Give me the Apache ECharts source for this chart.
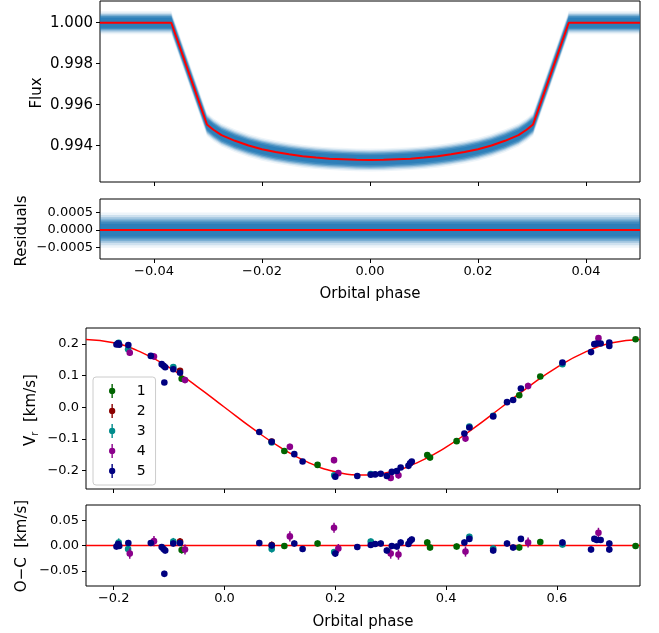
<!DOCTYPE html>
<html>
<head>
<meta charset="UTF-8">
<title>Transit and RV fit</title>
<style>html,body{margin:0;padding:0;background:#fff;}</style>
</head>
<body>
<div id="main" style="width:659px;height:633px;"></div>
<script src="https://cdn.jsdelivr.net/npm/echarts@6/dist/echarts.min.js"></script>
<script>
// light curve model
var lcPhase = [-0.05, -0.0368, -0.0352, -0.0335, -0.0318, -0.0302, -0.029, -0.0275, -0.025, -0.0225, -0.02, -0.0175, -0.015, -0.0125, -0.01, -0.0075, -0.005, -0.0025, 0,
               0.0025, 0.005, 0.0075, 0.01, 0.0125, 0.015, 0.0175, 0.02, 0.0225, 0.025, 0.0275, 0.029, 0.0302, 0.0318, 0.0335, 0.0352, 0.0368, 0.05];
var lcFlux = [1.0, 1.0, 0.99880, 0.99752, 0.99624, 0.99504, 0.99478, 0.99452, 0.99424, 0.99401, 0.99383, 0.99369, 0.99358, 0.99349, 0.99342, 0.99337, 0.99334, 0.99331, 0.99330,
              0.99331, 0.99334, 0.99337, 0.99342, 0.99349, 0.99358, 0.99369, 0.99383, 0.99401, 0.99424, 0.99452, 0.99478, 0.99504, 0.99624, 0.99752, 0.99880, 1.0, 1.0];
var resPhase = [-0.05, 0.05];
var resFlux = [0, 0];
// half widths of the photometric scatter cloud (outer halo -> dense core)
var lcSpread = [0.00056, 0.00049, 0.00043, 0.00037, 0.00031, 0.00024];
var resSpread = [0.0005, 0.00043, 0.00036, 0.0003, 0.00024, 0.00018];
var spreadAlpha = [0.08, 0.15, 0.25, 0.4, 0.55, 0.6];

// RV model
var rvPhase = [-0.25, -0.2, -0.15, -0.1, -0.05, 0, 0.05, 0.1, 0.15, 0.2, 0.25, 0.3, 0.35, 0.4, 0.45, 0.5, 0.55, 0.6, 0.65, 0.7, 0.75];
var rvModel = [0.214, 0.2035, 0.1731, 0.1258, 0.0661, 0, -0.0661, -0.1258, -0.1731, -0.2035, -0.214, -0.2035, -0.1731, -0.1258, -0.0661, 0, 0.0661, 0.1258, 0.1731, 0.2035, 0.214];

// instrument 1
var ph1 = [-0.0773, 0.108, 0.168, 0.366, 0.371, 0.419, 0.532, 0.570, 0.742];
var vr1 = [0.090, -0.138, -0.182, -0.151, -0.159, -0.107, 0.038, 0.097, 0.2145];
var oc1 = [-0.009, -0.001, 0.004, 0.006, -0.004, -0.002, -0.004, 0.007, -0.001];
var er1 = [0.007, 0.006, 0.006, 0.006, 0.006, 0.006, 0.006, 0.006, 0.006];
// instrument 2
var ph2 = [-0.0803, 0.0852];
var vr2 = [0.115, -0.108];
var oc2 = [0.008, 0.001];
var er2 = [0.007, 0.007];
// instrument 3
var ph3 = [-0.191, -0.174, -0.0924, 0.0852, 0.198, 0.264, 0.442, 0.485, 0.610];
var vr3 = [0.203, 0.183, 0.127, -0.111, -0.215, -0.211, -0.061, -0.027, 0.136];
var oc3 = [0.006, -0.007, 0.008, -0.007, -0.013, 0.008, 0.017, -0.006, 0.002];
var er3 = [0.008, 0.007, 0.007, 0.007, 0.006, 0.006, 0.006, 0.006, 0.006];
// instrument 4
var ph4 = [-0.171, -0.1273, -0.0713, 0.118, 0.1977, 0.2055, 0.300, 0.314, 0.435, 0.548, 0.675];
var vr4 = [0.172, 0.160, 0.086, -0.125, -0.167, -0.208, -0.223, -0.215, -0.099, 0.067, 0.218];
var oc4 = [-0.016, 0.0086, -0.008, 0.018, 0.035, -0.006, -0.016, -0.018, -0.012, 0.006, 0.025];
var er4 = [0.010, 0.010, 0.010, 0.010, 0.010, 0.009, 0.010, 0.010, 0.010, 0.010, 0.010];
// instrument 5
var ph5 = [-0.195, -0.192, -0.190, -0.1736, -0.133, -0.1134, -0.110, -0.107, -0.1086, -0.0924, -0.0803, 0.0628, 0.0852, 0.126, 0.141,
           0.200, 0.2397, 0.264, 0.272, 0.282, 0.293, 0.302, 0.311, 0.318, 0.332, 0.335, 0.338, 0.433, 0.442, 0.485,
           0.510, 0.521, 0.535, 0.610, 0.6616, 0.6676, 0.672, 0.679, 0.6946, 0.6946];
var vr5 = [0.198, 0.202, 0.197, 0.196, 0.162, 0.136, 0.131, 0.126, 0.078, 0.120, 0.109, -0.078, -0.109, -0.148, -0.171,
           -0.219, -0.217, -0.213, -0.212, -0.210, -0.217, -0.204, -0.201, -0.190, -0.185, -0.177, -0.171, -0.083, -0.064, -0.029,
           0.016, 0.023, 0.059, 0.141, 0.174, 0.199, 0.201, 0.201, 0.204, 0.193];
var oc5 = [-0.002, 0.003, -0.001, 0.005, 0.005, -0.003, -0.007, -0.010, -0.056, 0.004, 0.005, 0.005, 0.000, 0.004, -0.007,
           -0.016, -0.003, 0.001, 0.003, 0.004, -0.010, -0.001, -0.002, 0.006, 0.003, 0.009, 0.012, 0.006, 0.013, -0.010,
           0.004, -0.004, 0.013, 0.006, -0.008, 0.013, 0.011, 0.011, 0.004, -0.008];
var er5 = [0.006, 0.006, 0.006, 0.006, 0.006, 0.006, 0.006, 0.006, 0.006, 0.006, 0.006, 0.006, 0.006, 0.006, 0.006,
           0.006, 0.006, 0.006, 0.006, 0.006, 0.006, 0.006, 0.006, 0.006, 0.006, 0.006, 0.006, 0.006, 0.006, 0.006,
           0.006, 0.006, 0.006, 0.006, 0.006, 0.006, 0.006, 0.006, 0.006, 0.006];

var instNames = ['1', '2', '3', '4', '5'];
var instColors = ['#006400', '#8b0000', '#008b8b', '#8b008b', '#000080'];

var lcTicks = [-0.04, -0.02, 0, 0.02, 0.04];
var fluxTicks = [0.994, 0.996, 0.998, 1.000];
var resTicks = [-0.0005, 0, 0.0005];
var rvXTicks = [-0.2, 0, 0.2, 0.4, 0.6];
var rvYTicks = [-0.2, -0.1, 0, 0.1, 0.2];
var ocTicks = [-0.05, 0, 0.05];

var FONT = 'DejaVu Sans';
var myChart = echarts.init(document.getElementById('main'));

function minus(s) { return s.replace('-', '\u2212'); }

function pairs(xs, ys) {
  return xs.map(function (x, i) { return [x, ys[i]]; });
}

// blue scatter cloud drawn as a soft band round the model
function spreadBand(ai, xs, ys, half, alpha) {
  return {
    type: 'custom', xAxisIndex: ai, yAxisIndex: ai, silent: true, z: 1, clip: true,
    data: [[xs[0], ys[0]]],
    renderItem: function (params, api) {
      var up = [], lo = [];
      for (var i = 0; i < xs.length; i++) {
        up.push(api.coord([xs[i], ys[i] + half]));
        lo.unshift(api.coord([xs[i], ys[i] - half]));
      }
      return { type: 'polygon', shape: { points: up.concat(lo) }, style: { fill: '#1f77b4', opacity: alpha } };
    }
  };
}

function errSeries(name, color, ai, xs, ys, es) {
  return {
    name: name, type: 'custom', xAxisIndex: ai, yAxisIndex: ai, z: 5, clip: true,
    itemStyle: { color: color },
    data: xs.map(function (x, i) { return [x, ys[i], es[i]]; }),
    renderItem: function (params, api) {
      var x = api.value(0), y = api.value(1), e = api.value(2);
      var p = api.coord([x, y]);
      var a = api.coord([x, y - e]);
      var b = api.coord([x, y + e]);
      return {
        type: 'group', children: [
          { type: 'line', shape: { x1: a[0], y1: a[1], x2: b[0], y2: b[1] }, style: { stroke: color, lineWidth: 1.5 } },
          { type: 'circle', shape: { cx: p[0], cy: p[1], r: 3.3 }, style: { fill: color } }
        ]
      };
    }
  };
}

function modelLine(ai, xs, ys, smooth, width) {
  return {
    type: 'line', xAxisIndex: ai, yAxisIndex: ai, data: pairs(xs, ys), showSymbol: false, smooth: smooth,
    silent: true, z: 3, lineStyle: { color: '#ff0000', width: width }
  };
}

function xAxis(ai, min, max, ticks, labels, decimals, name, nameGap) {
  return {
    type: 'value', gridIndex: ai, min: min, max: max, name: name, nameLocation: 'middle', nameGap: nameGap,
    nameTextStyle: { fontFamily: FONT, fontSize: 15, color: '#000' },
    axisLine: { show: false, onZero: false }, splitLine: { show: false },
    axisTick: { show: true, length: 4, inside: false, customValues: ticks, lineStyle: { color: '#000' } },
    axisLabel: {
      show: labels, customValues: ticks, margin: 6, fontFamily: FONT, fontSize: 13, color: '#000',
      formatter: function (v) { return minus(v.toFixed(decimals)); }
    }
  };
}

function yAxis(ai, min, max, ticks, decimals, fontSize) {
  return {
    type: 'value', gridIndex: ai, min: min, max: max,
    axisLine: { show: false, onZero: false }, splitLine: { show: false },
    axisTick: { show: true, length: 4, inside: false, customValues: ticks, lineStyle: { color: '#000' } },
    axisLabel: {
      customValues: ticks, margin: 7, fontFamily: FONT, fontSize: fontSize, color: '#000',
      formatter: function (v) { return minus(v.toFixed(decimals)); }
    }
  };
}

function yTitle(text, x, y) {
  return {
    type: 'text', x: x, y: y, rotation: Math.PI / 2, silent: true,
    style: {
      text: text, fill: '#000', font: '15px "DejaVu Sans"', align: 'center', verticalAlign: 'middle',
      rich: { sub: { font: '10px "DejaVu Sans"', fill: '#000', padding: [9, 0, 0, 0] } }
    }
  };
}

var gridBase = { show: true, borderColor: '#000', borderWidth: 1, backgroundColor: '#fff', containLabel: false };

var series = [];
for (var k = 0; k < lcSpread.length; k++) {
  series.push(spreadBand(0, lcPhase, lcFlux, lcSpread[k], spreadAlpha[k]));
  series.push(spreadBand(1, resPhase, resFlux, resSpread[k], spreadAlpha[k]));
}
series.push(modelLine(0, lcPhase, lcFlux, false, 2));
series.push(modelLine(1, resPhase, resFlux, false, 2));
series.push(modelLine(2, rvPhase, rvModel, true, 1.5));
series.push(modelLine(3, [-0.25, 0.75], [0, 0], false, 1.5));

var phs = [ph1, ph2, ph3, ph4, ph5];
var vrs = [vr1, vr2, vr3, vr4, vr5];
var ocs = [oc1, oc2, oc3, oc4, oc5];
var ers = [er1, er2, er3, er4, er5];
for (var j = 0; j < 5; j++) {
  series.push(errSeries(instNames[j], instColors[j], 2, phs[j], vrs[j], ers[j]));
  series.push(errSeries(instNames[j], instColors[j], 3, phs[j], ocs[j], ers[j]));
}

var option = {
  animation: false,
  backgroundColor: '#fff',
  grid: [
    Object.assign({ left: 100, top: 1, width: 540, height: 181 }, gridBase),
    Object.assign({ left: 100, top: 199, width: 540, height: 60 }, gridBase),
    Object.assign({ left: 86, top: 328, width: 554, height: 161 }, gridBase),
    Object.assign({ left: 86, top: 505, width: 554, height: 81 }, gridBase)
  ],
  xAxis: [
    xAxis(0, -0.05, 0.05, lcTicks, false, 2, '', 0),
    xAxis(1, -0.05, 0.05, lcTicks, true, 2, 'Orbital phase', 28),
    xAxis(2, -0.25, 0.75, rvXTicks, false, 1, '', 0),
    xAxis(3, -0.25, 0.75, rvXTicks, true, 1, 'Orbital phase', 29)
  ],
  yAxis: [
    yAxis(0, 0.99223, 1.00106, fluxTicks, 3, 15),
    yAxis(1, -0.00082, 0.00088, resTicks, 4, 13),
    yAxis(2, -0.258, 0.25, rvYTicks, 1, 13),
    yAxis(3, -0.08, 0.08, ocTicks, 2, 13)
  ],
  graphic: [
    yTitle('Flux', 37, 93),
    yTitle('Residuals', 22, 231),
    yTitle('V{sub|r}  [km/s]', 31, 410),
    yTitle('O\u2212C  [km/s]', 22, 546)
  ],
  legend: {
    data: instNames.map(function (n) {
      return { name: n, icon: 'path://M9,0 L11,0 L11,20 L9,20 Z M14.5,10 A4.5,4.5 0 1 1 5.5,10 A4.5,4.5 0 1 1 14.5,10 Z' };
    }),
    orient: 'vertical', left: 93, top: 377,
    itemWidth: 7, itemHeight: 14, itemGap: 6,
    padding: [7, 10, 7, 16],
    backgroundColor: 'rgba(255,255,255,0.8)', borderColor: '#cccccc', borderWidth: 1, borderRadius: 3,
    textStyle: { fontFamily: FONT, fontSize: 14, color: '#000', padding: [0, 0, 0, 16] },
    selectedMode: false
  },
  series: series
};

myChart.setOption(option);
</script>
</body>
</html>
